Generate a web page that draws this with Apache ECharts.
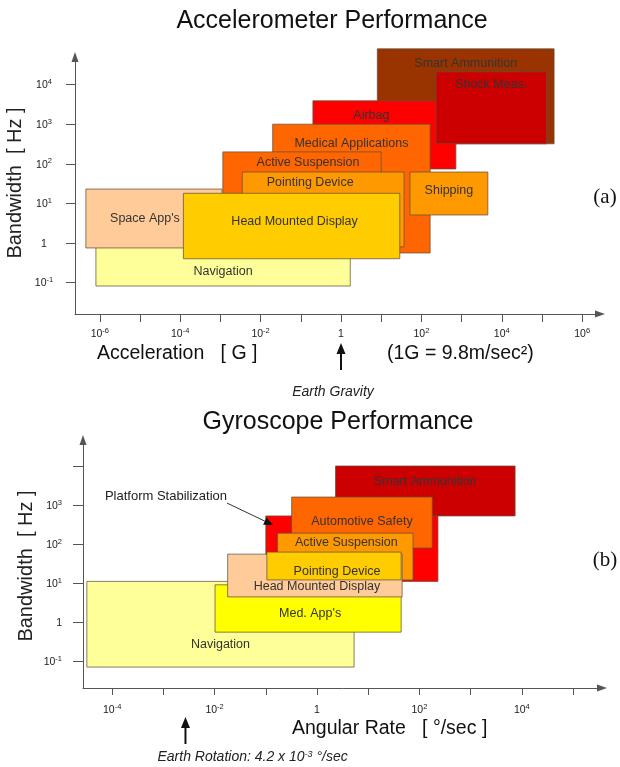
<!DOCTYPE html>
<html><head><meta charset="utf-8">
<script src="https://cdn.jsdelivr.net/npm/echarts@6/dist/echarts.min.js"></script>
<style>html,body{margin:0;padding:0;background:#fff}#c{width:620px;height:767px}</style>
</head><body><div id="c"></div>
<script>
// ---------- (a) Accelerometer Performance ----------
const accNames  = ['Smart Ammunition','Airbag','Shock Meas.','Medical Applications','Shipping','Active Suspension','Pointing Device','Navigation',"Space App's",'Head Mounted Display'];
const accGLow   = [8,     0.2,  230,   0.02, 52,   1.15e-3, 3.5e-3, 8e-7, 4.5e-7, 1.2e-4];
const accGHigh  = [2e5,   720,  1.3e5, 165,  4500, 10,      37,     1.7,  1.1e-3, 29];
const accHzLow  = [320,   74,   320,   0.56, 5.1,  12.6,    0.8,    0.082,0.75,   0.4];
const accHzHigh = [8e4,   3900, 2.1e4, 1000, 62,   200,     62,     3,    23,     18];
const accXTicks  = [1e-6,1e-5,1e-4,1e-3,1e-2,1e-1,1,10,100,1e3,1e4,1e5,1e6];
const accXLabels = [1e-6,1e-4,1e-2,1,100,1e4,1e6];
const accYTicks  = [0.1,1,10,100,1000,1e4];
const earthGravity = 1;

// ---------- (b) Gyroscope Performance ----------
const gyroNames    = ['Navigation',"Med. App's",'Smart Ammunition','Platform Stabilization','Automotive Safety','Active Suspension','Head Mounted Display','Pointing Device'];
const gyroRateLow  = [3.2e-5, 0.0102, 2.3,  0.1, 0.32, 0.17, 0.018, 0.105];
const gyroRateHigh = [5.3,    44,     7400, 230, 178,  75,   46,    44];
const gyroHzLow    = [0.07,   0.55,   525,  11,  79,   12,   4.4,   12];
const gyroHzHigh   = [11,     9,      1e4,  525, 1600, 190,  55,    62];
const gyroXTicks  = [1e-4,1e-3,1e-2,1e-1,1,10,100,1e3,1e4,1e5];
const gyroXLabels = [1e-4,1e-2,1,100,1e4];
const gyroYTicks  = [0.1,1,10,100,1000,1e4];
const gyroYLabels = [0.1,1,10,100,1000];
const platformNote = [0.0175, 1122, 0.138, 307]; // label end -> arrow tip
const earthRotationMark = 2.7e-3;

// ---------- styles ----------
const accColors = ['#993300','#FF0000','#CC0000','#FF6600','#FF9900','#FF6600','#FF9900','#FFFF99','#FFCC99','#FFCC00'];
const accPlaces = [
  {pos:'insideTop', dist:9},
  {pos:'insideTop', dist:9, dx:-13},
  {pos:'insideTop', dist:7},
  {pos:'insideTop', dist:13},
  {pos:'inside', dy:-3},
  {pos:'insideTop', dist:5, dx:6},
  {pos:'insideTop', dist:5, dx:-13},
  {pos:'insideBottom', dist:8},
  {pos:'inside', dx:-9},
  {pos:'inside', dx:3, dy:-4}
];
const gyroColors = ['#FFFF99','#FFFF00','#CC0000','#FF0000','#FF6600','#FF9900','#FFCC99','#FFCC00'];
const gyroPlaces = [
  {pos:'insideBottom', dist:17},
  {pos:'insideBottom', dist:13, dx:2},
  {pos:'insideTop', dist:10},
  null,
  {pos:'insideTop', dist:18},
  {pos:'insideTop', dist:3, dx:1},
  {pos:'insideBottom', dist:4, dx:2},
  {pos:'insideBottom', dist:2, dx:3}
];

const FONT = '"Liberation Sans", Arial, sans-serif';
const RICH = {
  b: {fontSize: 10.5, fontFamily: FONT, color: '#1a1a1a', verticalAlign: 'bottom', lineHeight: 13},
  s: {fontSize: 7.5, fontFamily: FONT, color: '#1a1a1a', verticalAlign: 'top', lineHeight: 9, padding: [0, 0, 6, 0]}
};
function powLabel(v) {
  const e = Math.round(Math.log10(v));
  if (e === 0) return '{b|1}';
  return '{b|10}{s|' + e + '}';
}

const accRange  = {x:[Math.pow(10,-6.617), Math.pow(10,6.443)], y:[Math.pow(10,-1.793), Math.pow(10,4.697)]};
const gyroRange = {x:[Math.pow(10,-4.570), Math.pow(10,5.566)], y:[Math.pow(10,-1.692), Math.pow(10,4.667)]};

function rows(a,b,c,d){ return a.map((v,i)=>[v,b[i],c[i],d[i]]); }

function makeRectRender(names, colors, places) {
  return function (params, api) {
    const i = params.dataIndex;
    const tl = api.coord([api.value(0), api.value(3)]);
    const br = api.coord([api.value(1), api.value(2)]);
    const el = {
      type: 'rect',
      shape: {x: tl[0], y: tl[1], width: br[0]-tl[0], height: br[1]-tl[1]},
      style: {fill: colors[i], stroke: 'rgba(100,80,60,0.75)', lineWidth: 1}
    };
    const pl = places[i];
    if (pl) {
      el.textContent = {style: {text: names[i], fill: '#333', fontSize: 12.5, fontFamily: FONT}};
      el.textConfig = {position: pl.pos, distance: pl.dist || 0, offset: [pl.dx || 0, pl.dy || 0]};
    }
    return el;
  };
}

function makeEarthRender(yMinVal, label, textDx, textAlign, textDy) {
  return function (params, api) {
    const p = api.coord([api.value(0), yMinVal]);
    const x = p[0], y = p[1];
    return {type:'group', children:[
      {type:'line', shape:{x1:x, y1:y+37, x2:x, y2:y+56}, style:{stroke:'#111', lineWidth:2}},
      {type:'polygon', shape:{points:[[x,y+29],[x-4.5,y+40],[x+4.5,y+40]]}, style:{fill:'#111'}},
      {type:'text', x:x+textDx, y:y+textDy, style:{text:label, fill:'#222', fontSize:14, fontStyle:'italic', fontFamily:FONT, align:textAlign, verticalAlign:'middle',
        rich:{s:{fontSize:9, fontStyle:'italic', fontFamily:FONT, fill:'#222', verticalAlign:'top', lineHeight:10, padding:[0,0,6,0]}}}}
    ]};
  };
}

function axisCommon(ticks, labels, fmtAlign, margin, tickLen) {
  return {
    axisLine: {show:true, symbol:['none','triangle'], symbolSize:[7,10], lineStyle:{color:'#555', width:1}},
    axisTick: {show:true, customValues: ticks, length: tickLen, lineStyle:{color:'#555'}},
    axisLabel: {customValues: labels, formatter: powLabel, rich: RICH, margin: margin, align: fmtAlign},
    splitLine: {show:false}, minorTick:{show:false}, minorSplitLine:{show:false}
  };
}

const chart = echarts.init(document.getElementById('c'), null, {renderer:'canvas'});
chart.setOption({
  animation: false,
  backgroundColor: '#fff',
  grid: [
    {left:75, top:57, width:525, height:257},
    {left:83, top:440, width:519, height:248}
  ],
  xAxis: [
    Object.assign({type:'log', gridIndex:0, min:accRange.x[0], max:accRange.x[1]}, axisCommon(accXTicks, accXLabels, 'center', 13, 8)),
    Object.assign({type:'log', gridIndex:1, min:gyroRange.x[0], max:gyroRange.x[1]}, axisCommon(gyroXTicks, gyroXLabels, 'center', 15, 7))
  ],
  yAxis: [
    Object.assign({type:'log', gridIndex:0, min:accRange.y[0], max:accRange.y[1]}, axisCommon(accYTicks, accYTicks, 'center', 31, 9)),
    Object.assign({type:'log', gridIndex:1, min:gyroRange.y[0], max:gyroRange.y[1]}, axisCommon(gyroYTicks, gyroYLabels, 'right', 21, 10))
  ],
  graphic: [
    {type:'text', x:332, y:21, style:{text:'Accelerometer Performance', fontSize:25, fontFamily:FONT, fill:'#111', align:'center', verticalAlign:'middle'}},
    {type:'text', x:338, y:422, style:{text:'Gyroscope Performance', fontSize:25, fontFamily:FONT, fill:'#111', align:'center', verticalAlign:'middle'}},
    {type:'text', x:15, y:183, rotation:Math.PI/2, style:{text:'Bandwidth  [ Hz ]', fontSize:20, fontFamily:FONT, fill:'#222', align:'center', verticalAlign:'middle'}},
    {type:'text', x:26, y:566, rotation:Math.PI/2, style:{text:'Bandwidth  [ Hz ]', fontSize:20, fontFamily:FONT, fill:'#222', align:'center', verticalAlign:'middle'}},
    {type:'text', x:97, y:354, style:{text:'Acceleration   [ G ]', fontSize:19.5, fontFamily:FONT, fill:'#111', align:'left', verticalAlign:'middle'}},
    {type:'text', x:387, y:354, style:{text:'(1G = 9.8m/sec\u00B2)', fontSize:19.5, fontFamily:FONT, fill:'#111', align:'left', verticalAlign:'middle'}},
    {type:'text', x:292, y:729, style:{text:'Angular Rate   [ \u00B0/sec ]', fontSize:19.5, fontFamily:FONT, fill:'#111', align:'left', verticalAlign:'middle'}},
    {type:'text', x:605, y:197, style:{text:'(a)', fontSize:21, fontFamily:'"Liberation Serif", "Times New Roman", serif', fill:'#111', align:'center', verticalAlign:'middle'}},
    {type:'text', x:605, y:560, style:{text:'(b)', fontSize:21, fontFamily:'"Liberation Serif", "Times New Roman", serif', fill:'#111', align:'center', verticalAlign:'middle'}}
  ],
  series: [
    {type:'custom', name:'Accelerometer', xAxisIndex:0, yAxisIndex:0, clip:false,
     encode:{x:[0,1], y:[2,3]}, data: rows(accGLow, accGHigh, accHzLow, accHzHigh),
     renderItem: makeRectRender(accNames, accColors, accPlaces)},
    {type:'custom', name:'Gyroscope', xAxisIndex:1, yAxisIndex:1, clip:false,
     encode:{x:[0,1], y:[2,3]}, data: rows(gyroRateLow, gyroRateHigh, gyroHzLow, gyroHzHigh),
     renderItem: makeRectRender(gyroNames, gyroColors, gyroPlaces)},
    {type:'custom', name:'Platform note', xAxisIndex:1, yAxisIndex:1, clip:false,
     data: [platformNote],
     renderItem: function (params, api) {
       const a = api.coord([api.value(0), api.value(1)]);
       const b = api.coord([api.value(2), api.value(3)]);
       const ang = Math.atan2(b[1]-a[1], b[0]-a[0]);
       const c = Math.cos(ang), s = Math.sin(ang);
       const bx = b[0]-9*c, by = b[1]-9*s;
       return {type:'group', children:[
         {type:'line', shape:{x1:a[0], y1:a[1], x2:bx, y2:by}, style:{stroke:'#333', lineWidth:1}},
         {type:'polygon', shape:{points:[[b[0],b[1]],[bx-4*s,by+4*c],[bx+4*s,by-4*c]]}, style:{fill:'#111'}},
         {type:'text', x:a[0], y:a[1]-7, style:{text:gyroNames[3], fill:'#222', fontSize:13, fontFamily:FONT, align:'right', verticalAlign:'middle'}}
       ]};
     }},
    {type:'custom', name:'Earth gravity', xAxisIndex:0, yAxisIndex:0, clip:false,
     data: [[earthGravity]], renderItem: makeEarthRender(accRange.y[0], 'Earth Gravity', -8, 'center', 78)},
    {type:'custom', name:'Earth rotation', xAxisIndex:1, yAxisIndex:1, clip:false,
     data: [[earthRotationMark]], renderItem: makeEarthRender(gyroRange.y[0], 'Earth Rotation: 4.2 x 10{s|-3} \u00B0/sec', -28, 'left', 69)}
  ]
});
</script></body></html>
